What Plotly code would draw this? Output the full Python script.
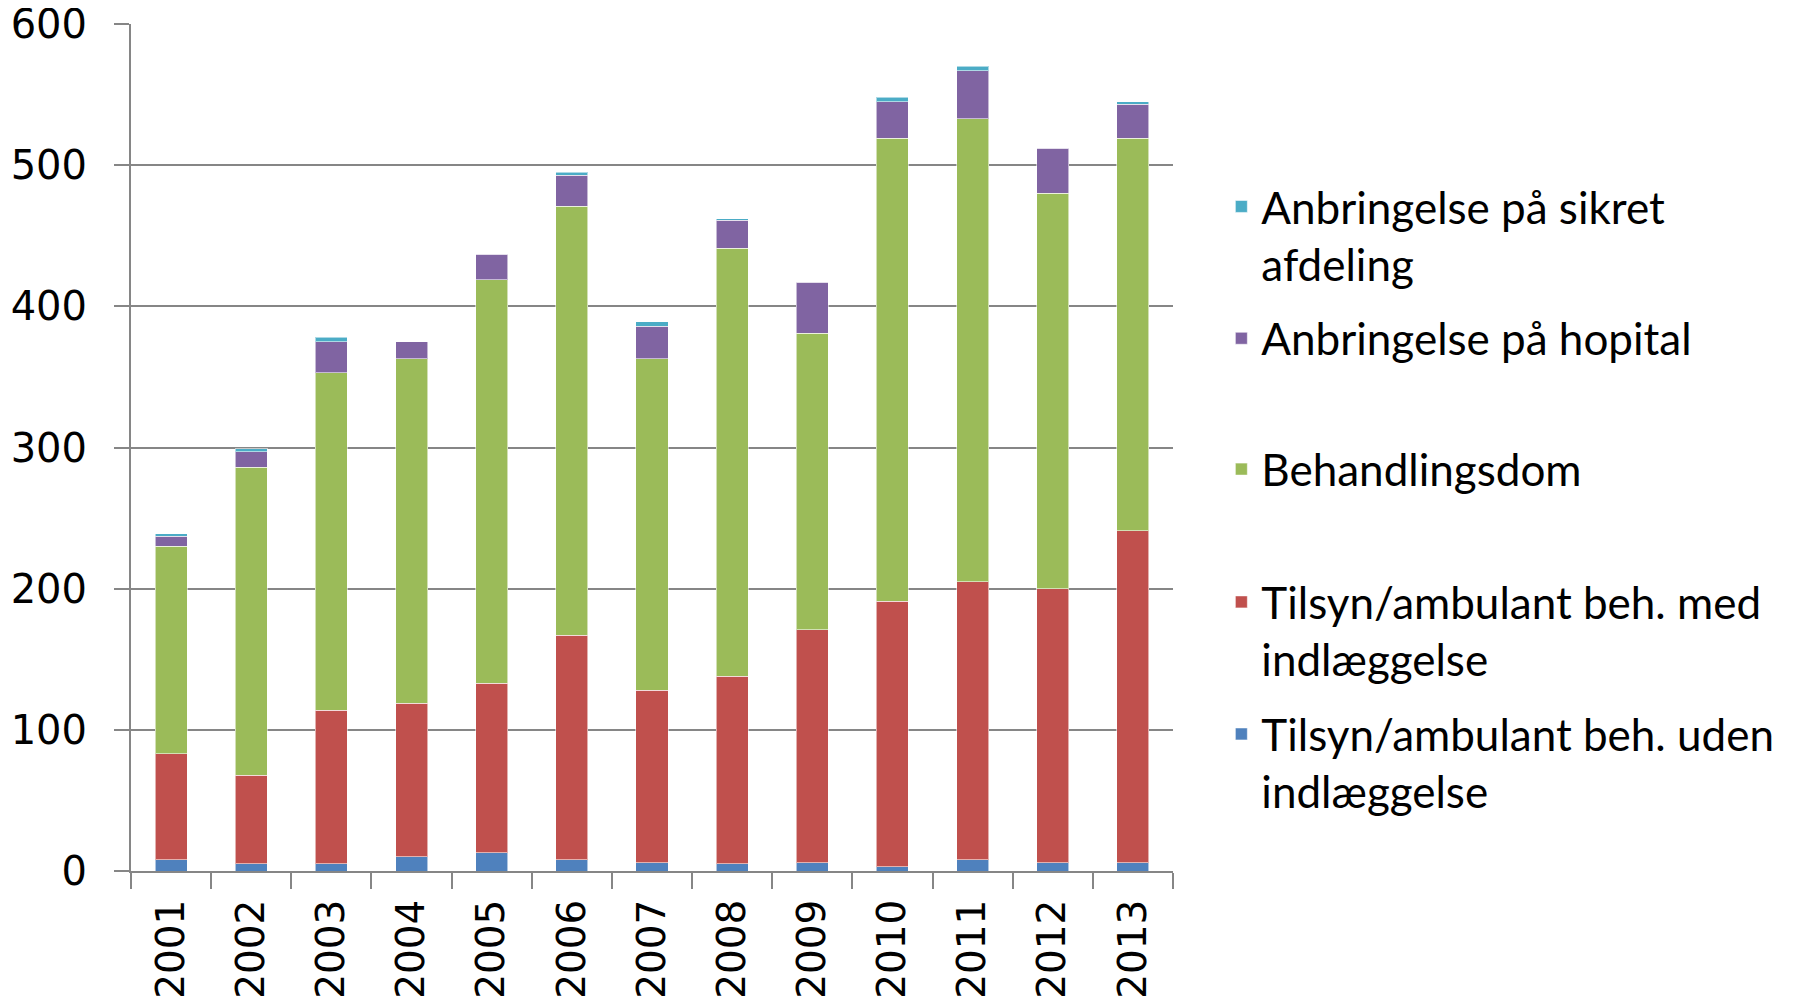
import plotly.graph_objects as go

# Years on the category axis
years = ["2001", "2002", "2003", "2004", "2005", "2006", "2007",
         "2008", "2009", "2010", "2011", "2012", "2013"]

# Stacked series (bottom to top)
uden_indlaeggelse = [8, 5, 5, 10, 13, 8, 6, 5, 6, 3, 8, 6, 6]
med_indlaeggelse = [75, 63, 109, 109, 120, 159, 122, 133, 165, 188, 197, 194, 235]
behandlingsdom = [147, 218, 239, 244, 286, 304, 235, 303, 210, 328, 328, 280, 278]
hospital = [7, 11, 22, 12, 18, 22, 23, 20, 36, 26, 34, 32, 24]
sikret_afdeling = [2, 2, 3, 0, 0, 2, 3, 1, 0, 3, 3, 0, 2]

y_ticks = [0, 100, 200, 300, 400, 500, 600]

series = [
    ("Tilsyn/ambulant beh. uden<br>indlæggelse", uden_indlaeggelse, "#4F81BD", "legend5"),
    ("Tilsyn/ambulant beh. med<br>indlæggelse", med_indlaeggelse, "#C0504D", "legend4"),
    ("Behandlingsdom", behandlingsdom, "#9BBB59", "legend3"),
    ("Anbringelse på hopital", hospital, "#8064A2", "legend2"),
    ("Anbringelse på sikret<br>afdeling", sikret_afdeling, "#4BACC6", "legend"),
]

fig = go.Figure()
for name, vals, color, leg in series:
    fig.add_trace(go.Bar(
        x=years, y=vals, name=name, legend=leg,
        marker=dict(color=color, line=dict(color="rgba(255,255,255,0.55)", width=1)),
    ))

legend_font = dict(family="Lato", size=44, color="black")
# one legend per entry, Excel spaces the entries unevenly
legend_pos = {"legend": 0.7505, "legend2": 0.6285, "legend3": 0.474,
              "legend4": 0.2836, "legend5": 0.1277}
legend_layout = {}
for key, ypos in legend_pos.items():
    legend_layout[key] = dict(
        x=1.0464, y=ypos, xanchor="left", yanchor="middle",
        font=legend_font, valign="top", bgcolor="rgba(0,0,0,0)",
        itemwidth=30,
    )

# page has an 8px body margin, figure sits 8px right/down of the window corner
fig.update_layout(
    barmode="stack",
    bargap=0.6,
    width=1784, height=1000,
    plot_bgcolor="white", paper_bgcolor="white",
    margin=dict(l=123, r=619, t=16, b=137),
    font=dict(family="DejaVu Sans", size=40, color="black"),
    showlegend=True,
    **legend_layout,
)

fig.update_yaxes(
    range=[0, 600], tickvals=y_ticks, automargin=False,
    showgrid=True, gridcolor="#868686", gridwidth=2,
    showline=True, linecolor="#868686", linewidth=2,
    ticks="outside", ticklen=15, tickcolor="#868686", tickwidth=2,
    ticklabelstandoff=19, ticklabeloverflow="allow", zeroline=False,
    tickfont=dict(family="DejaVu Sans", size=40, color="black"),
)
fig.update_xaxes(
    automargin=False,
    showline=True, linecolor="#868686", linewidth=2,
    ticks="outside", tickson="boundaries", ticklen=16,
    tickcolor="#868686", tickwidth=2,
    tickangle=-90, ticklabelstandoff=11, ticklabeloverflow="allow",
    tickfont=dict(family="DejaVu Sans", size=39, color="black"),
)

fig.write_html("out.html")
